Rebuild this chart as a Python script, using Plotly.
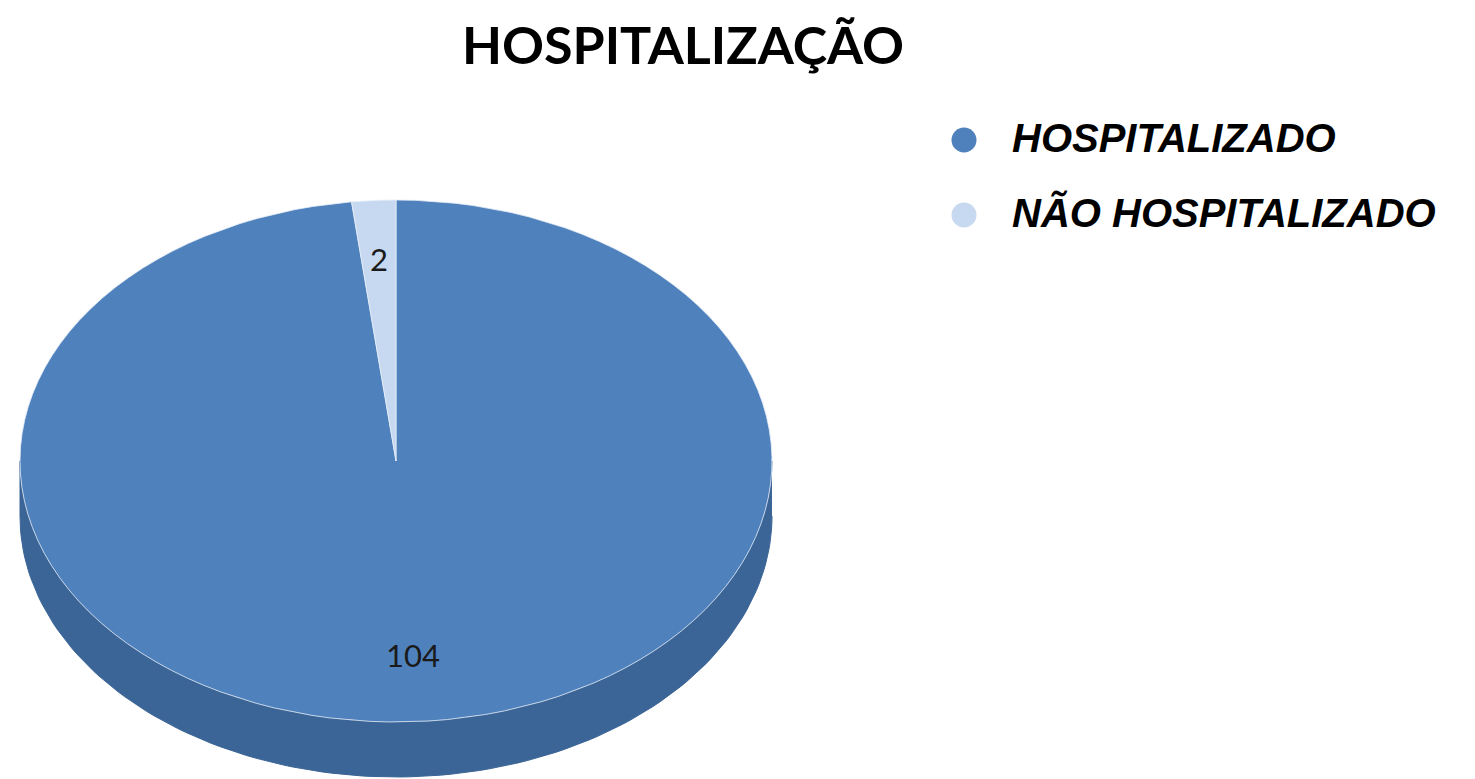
import numpy as np
import plotly.graph_objects as go

# dados do gráfico
categorias = ["HOSPITALIZADO", "NÃO HOSPITALIZADO"]
valores = [104, 2]
cores_topo = ["#4F81BD", "#C6D9F1"]
cores_lado = ["#3B6596", "#9DB3CF"]

# geometria da "pizza 3D" (em pixels da tela)
cx, cy, rx, ry, prof = 396, 461, 376, 261, 55
# a página tem 8px de margem no body
off = 8


def borda(t0, t1, dy=0, n=120):
    t = np.linspace(t0, t1, n)
    return cx + rx * np.sin(t), cy - ry * np.cos(t) + dy


total = sum(valores)
angulos = np.concatenate([[0], np.cumsum(valores) / total * 2 * np.pi])

fig = go.Figure()

# laterais (somente a metade da frente é visível)
for i in range(len(valores)):
    a0, a1 = max(angulos[i], np.pi / 2), min(angulos[i + 1], 3 * np.pi / 2)
    if a1 <= a0:
        continue
    xs, ys = borda(a0, a1)
    xb, yb = borda(a0, a1, prof)
    fig.add_trace(go.Scatter(
        x=np.concatenate([xs, xb[::-1]]), y=np.concatenate([ys, yb[::-1]]),
        fill="toself", fillcolor=cores_lado[i], mode="lines",
        line=dict(color=cores_lado[i], width=1), showlegend=False, hoverinfo="skip"))

# topo das fatias
for i in range(len(valores)):
    xs, ys = borda(angulos[i], angulos[i + 1])
    fig.add_trace(go.Scatter(
        x=np.concatenate([[cx], xs, [cx]]), y=np.concatenate([[cy], ys, [cy]]),
        fill="toself", fillcolor=cores_topo[i], mode="lines",
        line=dict(color="rgba(230,238,248,0.8)", width=1), showlegend=False,
        hoverinfo="skip"))

# rótulos com os valores
meio = (angulos[:-1] + angulos[1:]) / 2
fig.add_trace(go.Scatter(
    x=cx + 0.76 * rx * np.sin(meio), y=cy - 0.76 * ry * np.cos(meio),
    mode="text", text=[str(v) for v in valores],
    textfont=dict(family="Lato", size=31, color="#1A1A1A"),
    showlegend=False, hoverinfo="skip"))

# legenda desenhada à mão (marcadores maiores que os da legenda do plotly)
leg_y = [140 + 75 * i for i in range(len(categorias))]
fig.add_trace(go.Scatter(
    x=[964] * len(categorias), y=leg_y, mode="markers",
    marker=dict(size=25, color=cores_topo, symbol="circle"),
    showlegend=False, hoverinfo="skip"))
fig.add_trace(go.Scatter(
    x=[1012] * len(categorias), y=[v + 2 for v in leg_y], mode="text", text=categorias,
    textposition="middle right",
    textfont=dict(family="Liberation Sans", size=40, color="black",
                  style="italic", weight="bold"),
    showlegend=False, hoverinfo="skip"))

fig.update_layout(
    width=1475, height=779,
    margin=dict(l=0, r=0, t=0, b=0),
    paper_bgcolor="white", plot_bgcolor="white",
    showlegend=False,
    title=dict(text="<b>HOSPITALIZAÇÃO</b>", x=(683 - off) / 1475, xanchor="center",
               y=1 - (46 - off) / 779, yanchor="middle",
               font=dict(family="Lato", size=52, color="black")),
    xaxis=dict(range=[off, 1475 + off], visible=False, fixedrange=True),
    yaxis=dict(range=[779 + off, off], visible=False, fixedrange=True),
)

fig.write_html("out.html")
